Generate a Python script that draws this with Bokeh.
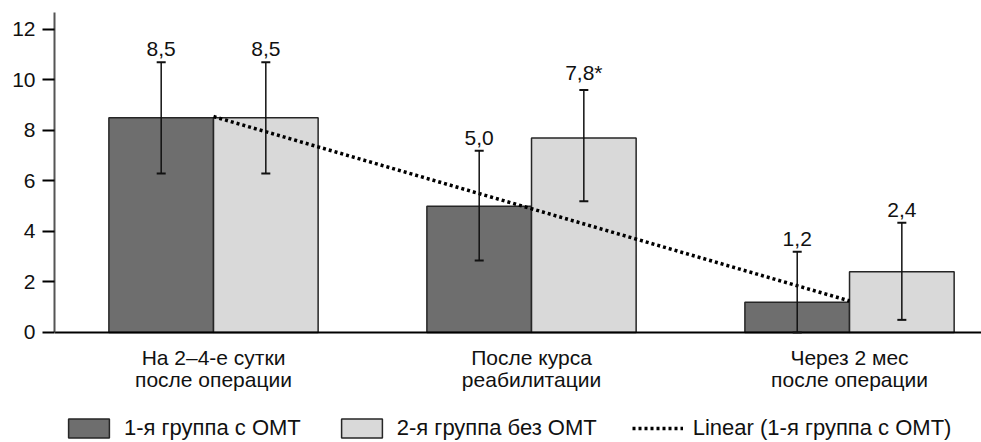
import numpy as np
from bokeh.plotting import figure
from bokeh.models import (Range1d, ColumnDataSource, Whisker, TeeHead, Legend,
                          LegendItem, FixedTicker)
from bokeh.core.properties import value
from bokeh.embed import file_html
from bokeh.resources import INLINE

# ---- data ----
categories = ["На 2–4-е сутки\nпосле операции",
              "После курса\nреабилитации",
              "Через 2 мес\nпосле операции"]
group1 = [8.5, 5.0, 1.2]
group2 = [8.5, 7.7, 2.4]
group1_upper = [10.7, 7.2, 3.2]
group1_lower = [6.3, 2.85, 0.0]
group2_upper = [10.7, 9.6, 4.35]
group2_lower = [6.3, 5.2, 0.5]
group1_labels = ["8,5", "5,0", "1,2"]
group2_labels = ["8,5", "7,8*", "2,4"]
series_names = ["1-я группа с ОМТ", "2-я группа без ОМТ", "Linear (1-я группа с ОМТ)"]
y_ticks = [0, 2, 4, 6, 8, 10, 12]

FONT = "Liberation Sans"
DARK = "#6e6e6e"
LIGHT = "#d9d9d9"
EDGE = "#262626"
BW = 0.329
Y_TOP = 12.67
Y_BOTTOM = -4.356   # room below the axis for category labels and legend

centers = [i + 0.5 for i in range(len(categories))]
x1 = [c - BW / 2 for c in centers]
x2 = [c + BW / 2 for c in centers]

p = figure(width=981, height=442, x_range=Range1d(0, 2.915), y_range=Range1d(Y_BOTTOM, Y_TOP),
           output_backend="svg", toolbar_location=None,
           min_border_left=54, min_border_right=0, min_border_top=12, min_border_bottom=0)
p.outline_line_color = None
p.grid.visible = False
p.background_fill_color = "white"

s1 = ColumnDataSource(dict(x=x1, top=group1, up=group1_upper, lo=group1_lower, lab=group1_labels))
s2 = ColumnDataSource(dict(x=x2, top=group2, up=group2_upper, lo=group2_lower, lab=group2_labels))

r1 = p.vbar(x="x", top="top", width=BW, bottom=0, source=s1, fill_color=DARK,
            line_color=EDGE, line_width=1.5)
r2 = p.vbar(x="x", top="top", width=BW, bottom=0, source=s2, fill_color=LIGHT,
            line_color=EDGE, line_width=1.5)

for s in (s1, s2):
    w = Whisker(base="x", upper="up", lower="lo", source=s, line_color="#111", line_width=1.5,
                level="annotation",
                upper_head=TeeHead(size=9, line_color="#111", line_width=2),
                lower_head=TeeHead(size=9, line_color="#111", line_width=2))
    p.add_layout(w)
    p.text(x="x", y="up", text="lab", source=s, text_align="center",
           text_baseline="bottom", y_offset=-6, text_font=value(FONT),
           text_font_size="21px", text_color="#111")

# linear trend of group 1
k, b = np.polyfit(np.arange(1, len(group1) + 1), group1, 1)
tx = [centers[0], centers[-1]]
ty = [k * 1 + b, k * len(group1) + b]
r3 = p.line(tx, ty, line_color="black", line_width=3.5, line_dash="3 3", line_cap="butt")

# axes
p.yaxis.ticker = FixedTicker(ticks=y_ticks)
p.yaxis.bounds = (0, Y_TOP)
p.yaxis.axis_line_color = "#555555"
p.yaxis.axis_line_width = 2
p.yaxis.major_tick_line_color = "black"
p.yaxis.major_tick_line_width = 2
p.yaxis.major_tick_out = 12
p.yaxis.major_tick_in = 0
p.yaxis.minor_tick_line_color = None
p.yaxis.major_label_standoff = 7
p.yaxis.major_label_text_font = FONT
p.yaxis.major_label_text_font_size = "21px"
p.yaxis.major_label_text_color = "#111"

p.xaxis.fixed_location = 0
p.xaxis.ticker = FixedTicker(ticks=centers)
p.xaxis.major_label_overrides = {c: lab for c, lab in zip(centers, categories)}
p.xaxis.axis_line_color = "black"
p.xaxis.axis_line_width = 2
p.xaxis.major_tick_line_color = None
p.xaxis.minor_tick_line_color = None
p.xaxis.major_label_standoff = 8
p.xaxis.major_label_text_font = FONT
p.xaxis.major_label_text_font_size = "21px"
p.xaxis.major_label_text_line_height = 0.95
p.xaxis.major_label_text_color = "#111"

legend = Legend(items=[LegendItem(label=series_names[0], renderers=[r1]),
                       LegendItem(label=series_names[1], renderers=[r2]),
                       LegendItem(label=series_names[2], renderers=[r3])],
                orientation="horizontal", location=(9, 1), margin=0, padding=0,
                spacing=35, glyph_width=51, glyph_height=24, label_standoff=10,
                label_text_font=FONT, label_text_font_size="22px", label_text_color="#111",
                border_line_color=None, background_fill_alpha=0)
p.add_layout(legend, "center")

open("out.html", "w").write(file_html(p, INLINE))
